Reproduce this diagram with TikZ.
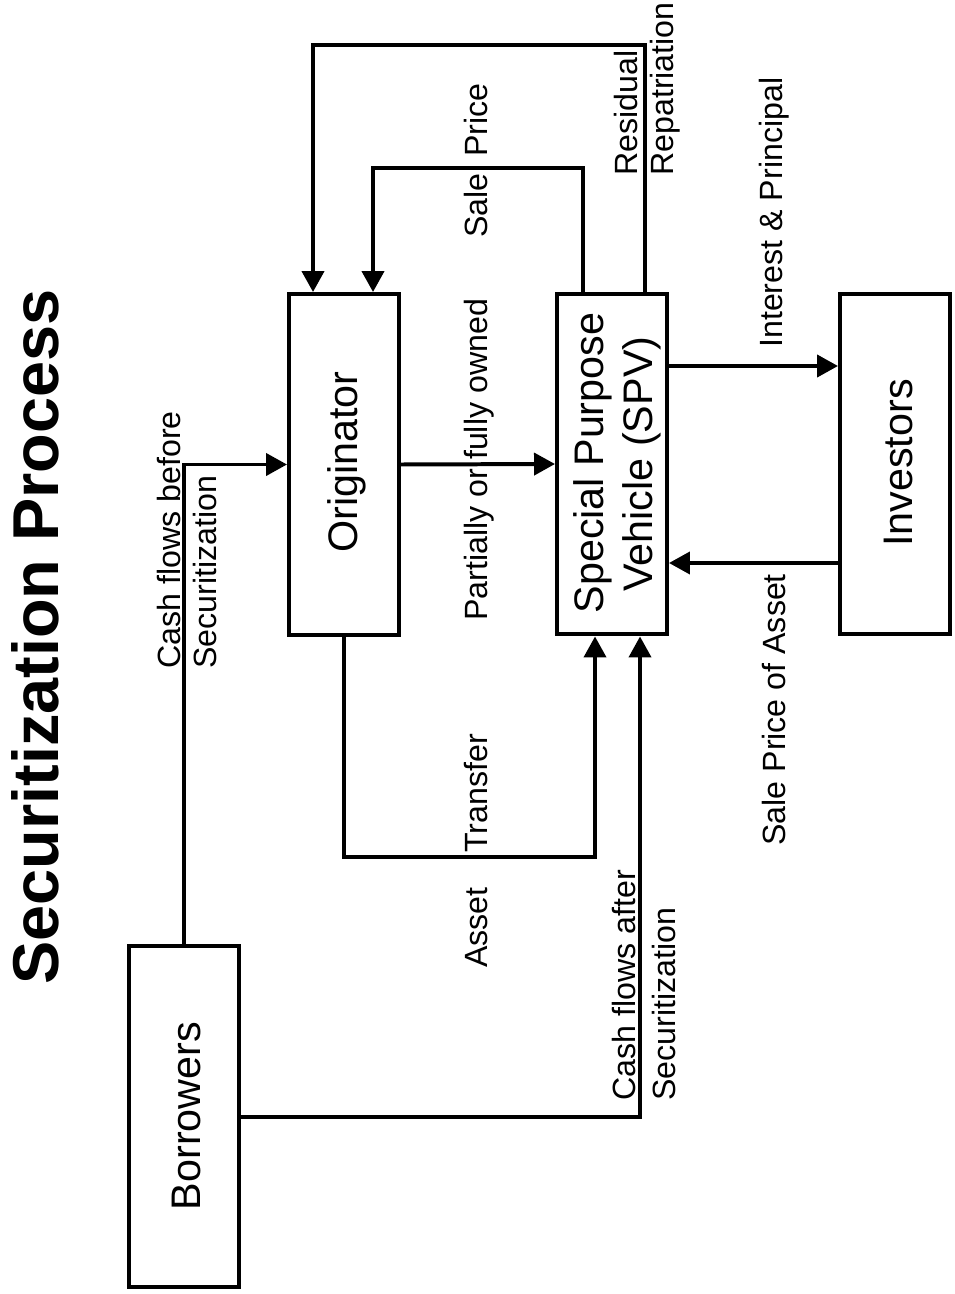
\documentclass[tikz,border=0pt]{standalone}
\usepackage{fontspec}
\setmainfont{Liberation Sans}
\usetikzlibrary{arrows.meta}
\begin{document}
\begin{tikzpicture}[x=0.02cm,y=-0.02cm,
  box/.style={draw, line width=2.27pt, minimum width=2.2cm, minimum height=6.82cm, inner sep=0pt, outer sep=1.135pt},
  boxtxt/.style={rotate=90, font=\fontsize{23.5}{28}\selectfont, inner sep=0pt, anchor=base},
  ttl/.style={rotate=90, font=\fontsize{36.9}{44}\selectfont\bfseries, inner sep=0pt, anchor=base},
  lbl/.style={rotate=90, font=\fontsize{18.3}{22}\selectfont, inner sep=0pt, anchor=base west},
  conn/.style={line width=2.27pt},
  arr/.style={conn, -{Triangle[length=0.42cm,width=0.44cm]}}
]
\useasboundingbox (0,0) rectangle (955,1294);

% title
\node[ttl] (title) at (58,637) {Securitization Process};

% boxes
\node[box] (borr) at (184,1116.5) {};
\node[box] (orig) at (344,464.5) {};
\node[box] (spv)  at (612,464) {};
\node[box] (inv)  at (895,464) {};

% box texts
\node[boxtxt] (borrt) at (200,1116) {Borrowers};
\node[boxtxt] (origt) at (357,462) {Originator};
\node[boxtxt] (spvt1) at (603,463) {Special Purpose};
\node[boxtxt] (spvt2) at (652,464) {Vehicle (SPV)};
\node[boxtxt] (invt)  at (912,463) {Investors};

% helper coordinates
\coordinate (tr) at (595,857);
\coordinate (sp) at (583,168);
\coordinate (spo) at (373,168);
\coordinate (rr) at (645,45);
\coordinate (rro) at (313,45);
\coordinate (ip) at (753,366);
\coordinate (sa) at (753,563);
\coordinate (ca) at (640,1117);

% connectors
\draw[arr] (borr.north) |- (orig.west);
\draw[arr] (orig.east) -- (spv.west);
\draw[arr] (orig.south) |- (tr) -- (tr |- spv.south);
\draw[arr] (sp |- spv.north) -- (sp) -- (spo) -- (spo |- orig.north);
\draw[arr] (rr |- spv.north) -- (rr) -- (rro) -- (rro |- orig.north);
\draw[arr] (ip -| spv.east) -- (ip -| inv.west);
\draw[arr] (sa -| inv.west) -- (sa -| spv.east);
\draw[arr] (borr.east |- ca) -- (ca) -- (ca |- spv.south);

% labels
\node[lbl] (l1a) at (180,669) {Cash flows before};
\node[lbl] (l1b) at (216,669) {Securitization};
\node[lbl] (l2)  at (487,621) {Partially or fully owned};
\node[lbl] (l3a) at (487,968) {Asset};
\node[lbl] (l3b) at (487,853) {Transfer};
\node[lbl] (l4a) at (487,238) {Sale};
\node[lbl] (l4b) at (487,157) {Price};
\node[lbl] (l5a) at (637,176) {Residual};
\node[lbl] (l5b) at (673,176) {Repatriation};
\node[lbl] (l6)  at (782,348) {Interest \& Principal};
\node[lbl] (l7)  at (785,846) {Sale Price of Asset};
\node[lbl] (l8a) at (635,1101) {Cash flows after};
\node[lbl] (l8b) at (675,1101) {Securitization};
\end{tikzpicture}
\end{document}
